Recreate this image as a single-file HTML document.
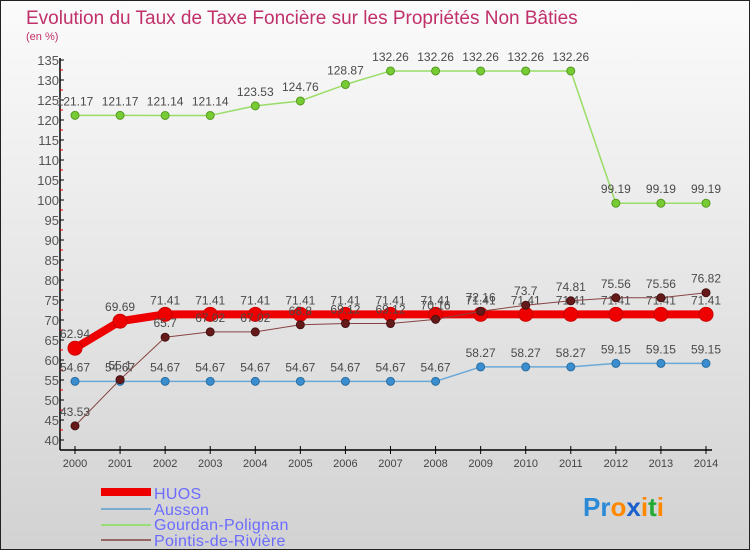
<!DOCTYPE html>
<html><head><meta charset="utf-8"><style>
body{margin:0;width:750px;height:550px;overflow:hidden;font-family:"Liberation Sans",sans-serif}
svg text{font-family:"Liberation Sans",sans-serif}
</style></head><body>
<svg id="chart" width="750" height="550" xmlns="http://www.w3.org/2000/svg">
<defs><linearGradient id="bg" x1="0" y1="0" x2="0" y2="1"><stop offset="0" stop-color="#fbfbfb"/><stop offset="1" stop-color="#d2d2d2"/></linearGradient></defs>
<rect x="0.5" y="0.5" width="749" height="549" fill="url(#bg)" stroke="#222"/>
<text x="26" y="24" font-size="19" fill="#c0306a">Evolution du Taux de Taxe Foncière sur les Propriétés Non Bâties</text>
<text x="26" y="40" font-size="11" fill="#c0306a">(en %)</text>
<g id="axes"></g><g id="series"></g>
<g>
<rect x="101" y="488" width="50" height="8" fill="#ee0000"/>
<text x="154" y="499" font-size="16" letter-spacing="0.3" fill="#6b6bff">HUOS</text>
<line x1="101" y1="509" x2="151" y2="509" stroke="#7aaed0" stroke-width="2"/>
<text x="154" y="515" font-size="16" letter-spacing="0.3" fill="#6b6bff">Ausson</text>
<line x1="101" y1="525" x2="151" y2="525" stroke="#99dd77" stroke-width="2"/>
<text x="154" y="530" font-size="16" letter-spacing="0.3" fill="#6b6bff">Gourdan-Polignan</text>
<line x1="101" y1="540" x2="151" y2="540" stroke="#996666" stroke-width="2"/>
<text x="154" y="546" font-size="16" letter-spacing="0.3" fill="#6b6bff">Pointis-de-Rivière</text>
</g>
<text x="583" y="516" font-size="26" font-weight="bold"><tspan fill="#2a8ad8">Pr</tspan><tspan fill="#ff8800">o</tspan><tspan fill="#1a5fcc">x</tspan><tspan fill="#ff8800">i</tspan><tspan fill="#22aa33">t</tspan><tspan fill="#ff8800">i</tspan></text>
</svg>
<script>
const years=[2000,2001,2002,2003,2004,2005,2006,2007,2008,2009,2010,2011,2012,2013,2014];
const yTicks=[40,45,50,55,60,65,70,75,80,85,90,95,100,105,110,115,120,125,130,135];
const huos=[62.94,69.69,71.41,71.41,71.41,71.41,71.41,71.41,71.41,71.41,71.41,71.41,71.41,71.41,71.41];
const ausson=[54.67,54.67,54.67,54.67,54.67,54.67,54.67,54.67,54.67,58.27,58.27,58.27,59.15,59.15,59.15];
const gourdan=[121.17,121.17,121.14,121.14,123.53,124.76,128.87,132.26,132.26,132.26,132.26,132.26,99.19,99.19,99.19];
const pointis=[43.53,55.1,65.7,67.02,67.02,68.8,69.12,69.12,70.16,72.16,73.7,74.81,75.56,75.56,76.82];
const NS="http://www.w3.org/2000/svg";
const X=i=>75+i*(706-75)/(years.length-1);
const Y=v=>440-(v-40)*4;
function mk(t,a,p){const e=document.createElementNS(NS,t);for(const k in a)e.setAttribute(k,a[k]);p.appendChild(e);return e;}
const ax=document.getElementById('axes');
const yl=mk('line',{x1:60,y1:58,x2:60,y2:450,stroke:'#000','stroke-width':1.5},ax);


const xl=mk('line',{x1:60,y1:450,x2:712,y2:450,stroke:'#000','stroke-width':1.5},ax);


yTicks.forEach(v=>{
 mk('line',{x1:60,y1:Y(v),x2:64,y2:Y(v),stroke:'#000'},ax);
 if(v<135)mk('line',{x1:60,y1:Y(v+2.5),x2:63,y2:Y(v+2.5),stroke:'#e00'},ax);
 const t=mk('text',{x:59,y:Y(v)+5,'font-size':13,'text-anchor':'end',fill:'#555'},ax);t.textContent=v;
 
 
});
years.forEach((y,i)=>{
 mk('line',{x1:X(i),y1:446,x2:X(i),y2:454,stroke:'#000'},ax);
 const t=mk('text',{x:X(i),y:467,'font-size':11,'text-anchor':'middle',fill:'#444'},ax);t.textContent=y;
 
 
});
const sg=document.getElementById('series');
function series(d,name,col,w,r,dot,stroke){
 const g=mk('g',{},sg);
 
 
 mk('polyline',{points:d.map((v,i)=>X(i)+','+Y(v)).join(' '),fill:'none',stroke:col,'stroke-width':w,'stroke-linejoin':'round'},g);
 d.forEach((v,i)=>{
  const c=mk('circle',{cx:X(i),cy:Y(v),r:r,fill:dot,stroke:stroke,'stroke-width':1},g);
  
  
  const t=mk('text',{x:X(i),y:Y(v)-10,'font-size':12,'text-anchor':'middle',fill:'#4a4a4a'},g);
  t.textContent=String(v.toFixed(2)).replace(/\.?0+$/,'');
  
  
 });
}
series(gourdan,'gourdan-polignan','#99dd66',1.5,4,'#77cc33','#559922');
series(ausson,'ausson','#6aa8d8',1.5,4,'#3a8ed0','#2a6ea0');
series(huos,'huos','#ee0000',8,7,'#ee0000','#cc0000');
series(pointis,'pointis-de-riviere','#884444',1,4,'#661919','#441111');
</script>
</body></html>
